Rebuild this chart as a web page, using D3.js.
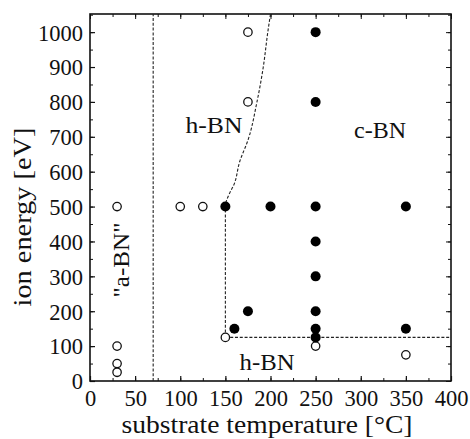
<!DOCTYPE html>
<html>
<head>
<meta charset="utf-8">
<script src="https://cdn.jsdelivr.net/npm/d3@7"></script>
<style>
  body { margin: 0; background: #fff; }
  text { font-family: "Liberation Serif", "Times New Roman", serif; fill: #111; }
</style>
</head>
<body>
<script>
const width = 470;
const height = 439;
const margin = { top: 14, right: 19, bottom: 58, left: 90 };

// substrate temperature [°C], ion energy [eV]
const openX = [30, 30, 30, 30, 100, 125, 150, 175, 175, 250, 350];
const openY = [500, 100, 50, 25, 500, 500, 125, 1000, 800, 100, 75];
const filledX = [150, 160, 175, 200, 250, 250, 250, 250, 250, 250, 250, 250, 350, 350];
const filledY = [500, 150, 200, 500, 1000, 800, 500, 400, 300, 200, 150, 125, 500, 150];

// phase boundaries
const boundX = [150, 150, 155, 159, 166, 175, 185, 192, 197, 200];
const boundY = [125, 500, 540, 560, 630, 690, 800, 900, 1000, 1052];
const floorX = [150, 400];
const floorY = [125, 125];
const aBoundX = [70, 70];
const aBoundY = [0, 1052];

const xTicks = [0, 50, 100, 150, 200, 250, 300, 350, 400];
const yTicks = [0, 100, 200, 300, 400, 500, 600, 700, 800, 900, 1000];
const xMinor = d3.range(0, 401, 25);
const yMinor = d3.range(0, 1051, 50);

const svg = d3.select('body').append('svg').attr('width', width).attr('height', height);

const x = d3.scaleLinear().domain([0, 400]).range([margin.left, width - margin.right]);
const y = d3.scaleLinear().domain([0, 1052]).range([height - margin.bottom, margin.top]);

const x0 = x(0), x1 = x(400), y0 = y(0), y1 = y(1052);

// minor ticks (all four sides, inward)
function minorAxis(axis, tf) {
  svg.append('g').attr('transform', tf).call(axis)
    .call(g => g.select('.domain').remove())
    .call(g => g.selectAll('text').remove())
    .call(g => g.selectAll('line').attr('stroke', '#111').attr('stroke-width', 1));
}
minorAxis(d3.axisBottom(x).tickValues(xMinor).tickSize(-3), `translate(0,${y0})`);
minorAxis(d3.axisTop(x).tickValues(xMinor).tickSize(-3), `translate(0,${y1})`);
minorAxis(d3.axisLeft(y).tickValues(yMinor).tickSize(-3), `translate(${x0},0)`);
minorAxis(d3.axisRight(y).tickValues(yMinor).tickSize(-3), `translate(${x1},0)`);
minorAxis(d3.axisTop(x).tickValues(xTicks).tickSize(-5), `translate(0,${y1})`);
minorAxis(d3.axisRight(y).tickValues(yTicks).tickSize(-5), `translate(${x1},0)`);

// labelled axes
const xAxis = svg.append('g').attr('transform', `translate(0,${y0})`)
  .call(d3.axisBottom(x).tickValues(xTicks).tickFormat(d3.format('d')).tickSize(-5).tickPadding(9));
const yAxis = svg.append('g').attr('transform', `translate(${x0},0)`)
  .call(d3.axisLeft(y).tickValues(yTicks).tickFormat(d3.format('d')).tickSize(-5).tickPadding(7));
[xAxis, yAxis].forEach(g => {
  g.attr('font-family', null);
  g.select('.domain').remove();
  g.selectAll('line').attr('stroke', '#111').attr('stroke-width', 1.2);
  g.selectAll('text').attr('font-size', 22.5).attr('fill', '#111');
});
yAxis.selectAll('text').attr('dy', '0.35em');
xAxis.selectAll('text').attr('dy', '0.72em');

// frame
svg.append('rect')
  .attr('x', x0).attr('y', y1)
  .attr('width', x1 - x0).attr('height', y0 - y1)
  .attr('fill', 'none').attr('stroke', '#111').attr('stroke-width', 1.6);

// dashed boundaries
const line = d3.line().x(d => x(d[0])).y(d => y(d[1]));
const curveLine = d3.line().x(d => x(d[0])).y(d => y(d[1])).curve(d3.curveMonotoneY);
function dashed(xs, ys, gen) {
  svg.append('path')
    .attr('d', gen(xs.map((v, i) => [v, ys[i]])))
    .attr('fill', 'none').attr('stroke', '#222').attr('stroke-width', 1.1)
    .attr('stroke-dasharray', '3,1.8');
}
dashed(aBoundX, aBoundY, line);
dashed(boundX, boundY, curveLine);
dashed(floorX, floorY, line);

// points
svg.selectAll('.open').data(openX).enter().append('circle')
  .attr('class', 'open')
  .attr('cx', d => x(d))
  .attr('cy', (d, i) => y(openY[i]))
  .attr('r', 4.2)
  .attr('fill', '#fff').attr('stroke', '#111').attr('stroke-width', 1.3);

svg.selectAll('.filled').data(filledX).enter().append('circle')
  .attr('class', 'filled')
  .attr('cx', d => x(d))
  .attr('cy', (d, i) => y(filledY[i]))
  .attr('r', 5)
  .attr('fill', '#000');

// region labels
function label(tf, txt, size, len) {
  svg.append('text').attr('transform', tf).attr('text-anchor', 'middle')
    .attr('font-size', size).attr('textLength', len).attr('lengthAdjust', 'spacingAndGlyphs')
    .text(txt);
}
label('translate(214,133)', 'h-BN', 23, 57);
label('translate(380,138)', 'c-BN', 23, 52);
label('translate(267,370)', 'h-BN', 23, 55);
label('translate(129,260) rotate(-90)', '"a-BN"', 23, 75);

// axis titles
label('translate(267,433)', 'substrate temperature [°C]', 25, 291);
label('translate(31,217) rotate(-90)', 'ion energy [eV]', 25, 179);
</script>
</body>
</html>
